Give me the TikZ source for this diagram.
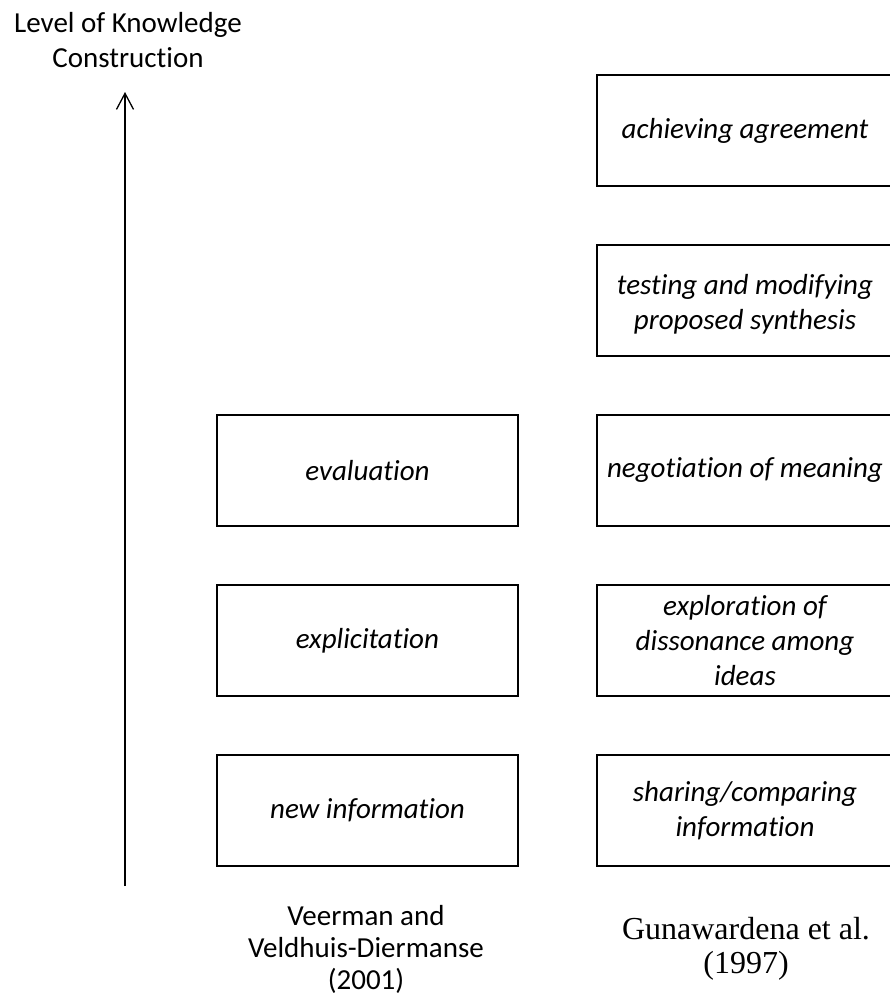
\documentclass[tikz,border=0pt]{standalone}
\usepackage{fontspec}
\setmainfont{Carlito}[Ligatures=NoCommon]
\newfontfamily\timesfont{Liberation Serif}
\usetikzlibrary{arrows.meta}
\begin{document}
\begin{tikzpicture}[x=1pt,y=-1pt,
  stagebox/.style={draw, line width=2.4pt, minimum height=111pt, inner sep=0pt,
    align=center, font=\fontsize{29}{35}\selectfont\itshape},
  leftbox/.style={stagebox, minimum width=301pt},
  rightbox/.style={stagebox, minimum width=296pt},
  caption/.style={align=center, inner sep=0pt, font=\fontsize{29}{32}\selectfont},
  levelarrow/.style={line width=1.3pt, -{Straight Barb[length=16pt,width=17pt]}}]
\useasboundingbox (0,0) rectangle (890,999);
\clip (0,0) rectangle (890,999);

% axis title and arrow
\node[caption, font=\fontsize{29}{35}\selectfont] (title) at (128,40) {Level of Knowledge\\Construction};
\coordinate (axisfoot) at (125,886);
\coordinate (axistop) at (125,92);
\draw[levelarrow] (axisfoot) -- (axistop);

% Veerman and Veldhuis-Diermanse (2001)
\node[leftbox] (vEval) at (367.5,470.5) {evaluation};
\node[leftbox] (vExpl) at (367.5,640.5) {explicitation};
\node[leftbox] (vNew)  at (367.5,810.5) {new information};

% Gunawardena et al. (1997)
\node[rightbox] (gAgree) at (745,130.5) {achieving agreement};
\node[rightbox] (gTest)  at (745,300.5) {\rule{0pt}{28pt}testing and modifying\\proposed synthesis};
\node[rightbox] (gNeg)   at (745,470.5) {negotiation of meaning};
\node[rightbox] (gExpl)  at (745,640.5) {exploration of\\dissonance among\\ideas};
\node[rightbox] (gShare) at (745,810.5) {sharing/comparing\\information};

% source labels
\node[caption] (vSource) at (366,949) {Veerman and\\Veldhuis-Diermanse\\(2001)};
\node[caption, font=\fontsize{32}{34}\selectfont\timesfont] (gSource) at (746,949) {Gunawardena et al.\\(1997)};
\end{tikzpicture}
\end{document}
